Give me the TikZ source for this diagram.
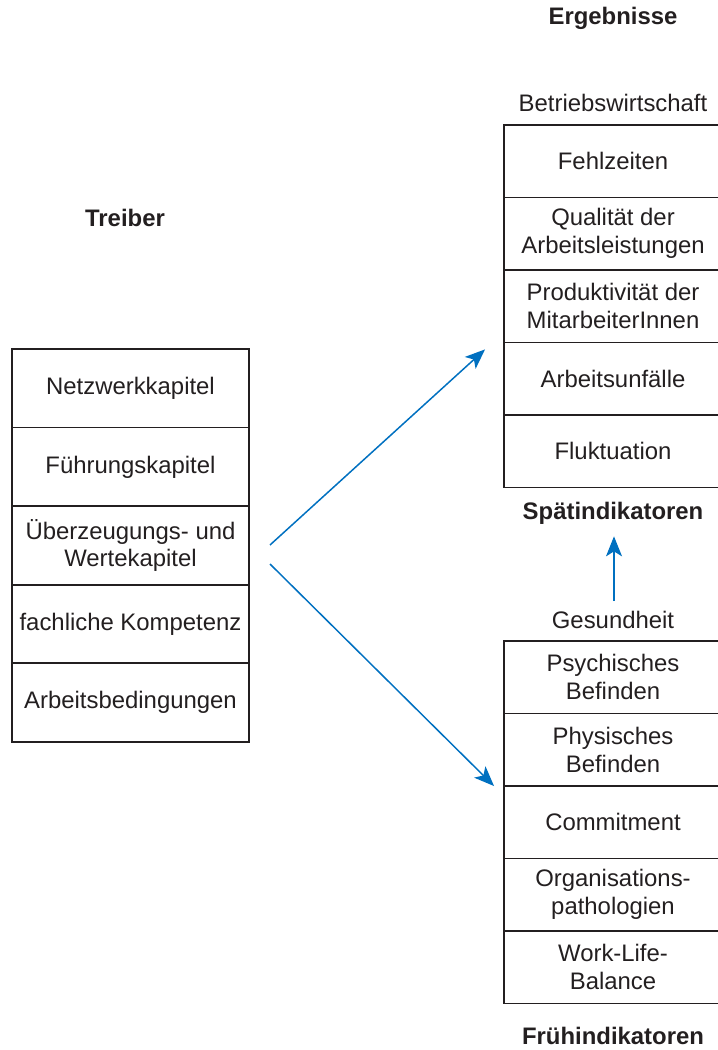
\documentclass[tikz,border=0pt]{standalone}
\usepackage{fontspec}
\setmainfont{Liberation Sans}
\usetikzlibrary{positioning,arrows.meta}
\definecolor{arrowblue}{RGB}{0,112,192}
\definecolor{inkgray}{RGB}{35,31,32}

\begin{document}
\begin{tikzpicture}[x=0.02cm,y=-0.02cm,
    font=\fontsize{13.6}{15.9}\selectfont, text=inkgray,
    cell/.style={outer sep=0pt,inner sep=0pt,align=center},
    lcell/.style={cell,draw=inkgray,line width=1pt,minimum width=4.74cm,minimum height=1.572cm},
    rcell/.style={cell,minimum width=4.36cm,minimum height=1.45cm},
    rbox/.style={draw=inkgray,line width=1pt},
    head/.style={font=\fontsize{13.6}{15.9}\selectfont\bfseries},
    flow/.style={draw=arrowblue,line width=0.85pt,-{Stealth[length=0.4cm,width=0.32cm,inset=0.1cm]}}]
    \useasboundingbox (0,0) rectangle (717,1050);
    %% drivers
    \node[head] (treiber) at (125,218) {Treiber};
    \node[lcell] (t1) at (130.5,388.3) {Netzwerkkapitel};
    \node[lcell,below=0pt of t1] (t2) {Führungskapitel};
    \node[lcell,below=0pt of t2] (t3) {Überzeugungs- und\\Wertekapitel};
    \node[lcell,below=0pt of t3] (t4) {fachliche Kompetenz};
    \node[lcell,below=0pt of t4] (t5) {Arbeitsbedingungen};
    %% results: economics
    \node[head] (ergeb) at (613,18) {Ergebnisse};
    \node (bw) at (613,103) {Betriebswirtschaft};
    \node[rcell] (e1) at (613,161.2) {Fehlzeiten};
    \node[rcell,below=0pt of e1] (e2) {Qualität der\\Arbeitsleistungen};
    \node[rcell,below=0pt of e2] (e3) {Produktivität der\\MitarbeiterInnen};
    \node[rcell,below=0pt of e3] (e4) {Arbeitsunfälle};
    \node[rcell,below=0pt of e4] (e5) {Fluktuation};
    \node[head] (spaet) at (613,513) {Spätindikatoren};
    %% results: health
    \node (ges) at (613,620) {Gesundheit};
    \node[rcell] (g1) at (613,677.3) {Psychisches\\Befinden};
    \node[rcell,below=0pt of g1] (g2) {Physisches\\Befinden};
    \node[rcell,below=0pt of g2] (g3) {Commitment};
    \node[rcell,below=0pt of g3] (g4) {Organisations-\\pathologien};
    \node[rcell,below=0pt of g4] (g5) {Work-Life-\\Balance};
    \node[head] (frueh) at (613,1036) {Frühindikatoren};
    %% boxes run off the right edge
    \foreach \n in {e1,e2,e3,e4,e5,g1,g2,g3,g4,g5}
        \draw[rbox] (\n.north west) rectangle ([xshift=0.4cm]\n.south east);
    %% arrows
    \coordinate (fork up) at (270,545);
    \coordinate (fork down) at (270,564);
    \draw[flow] (fork up) -- ([xshift=-0.38cm,yshift=-0.14cm]e3.south west);
    \draw[flow] (fork down) -- ([xshift=-0.2cm]g3.north west);
    \draw[flow,shorten <=0.08cm,shorten >=0.12cm] ([xshift=0.02cm]ges.north) -- ([xshift=0.02cm]spaet.south);
\end{tikzpicture}
\end{document}
